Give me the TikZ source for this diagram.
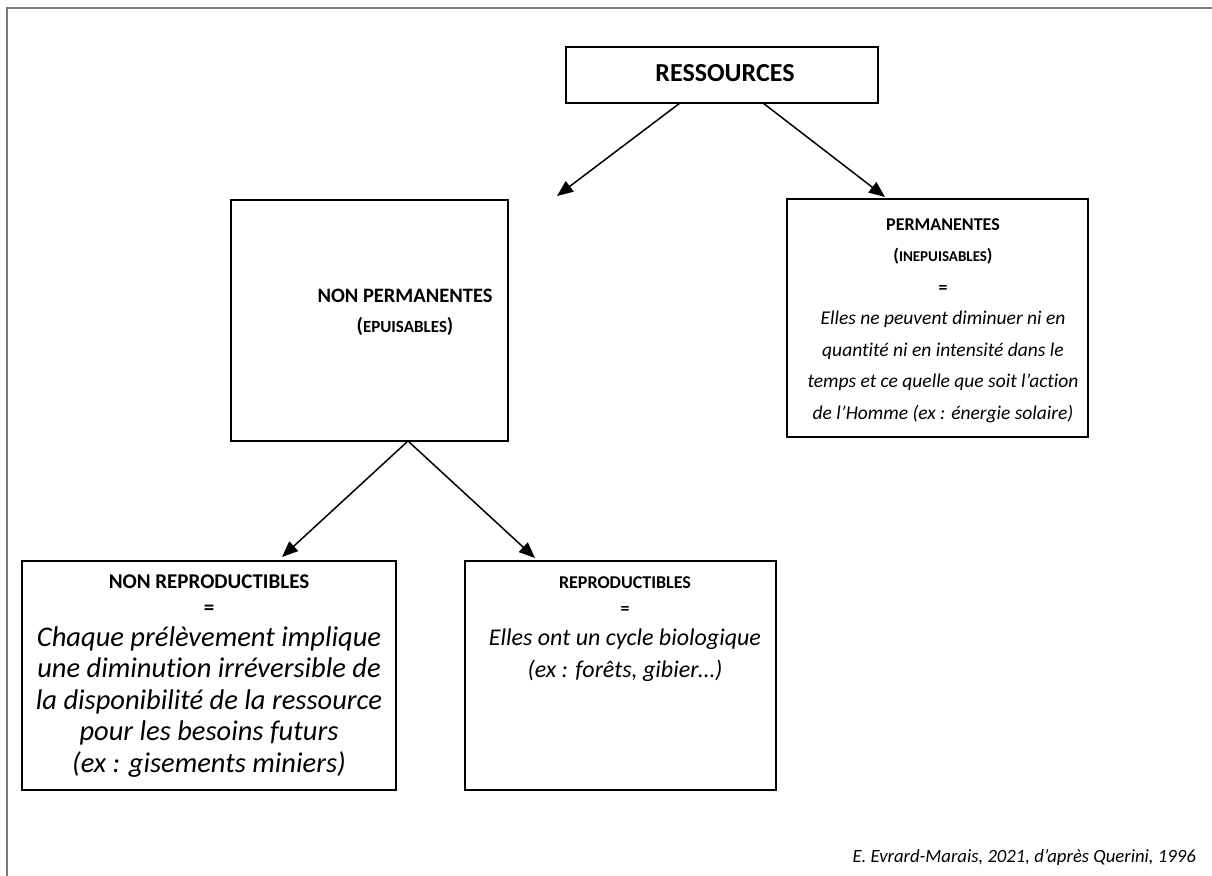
\documentclass[tikz,border=0pt]{standalone}
\usepackage{fontspec}
\setmainfont{Carlito}[Ligatures={NoCommon,NoContextual}]
\usetikzlibrary{arrows.meta}
\newcommand{\fsc}[2]{{\fontsize{#1}{31.5bp}\selectfont #2}}
\begin{document}
\begin{tikzpicture}[x=1bp,y=-1bp,
  frame/.style={draw, line width=2bp},
  arr/.style={-{Triangle[length=16bp,width=13bp]}, line width=1.5bp},
  txt/.style={align=center, inner sep=0pt, anchor=north},
  anchorpt/.style={inner sep=0pt}
]
\useasboundingbox (0,0) rectangle (1212,876);
\draw[color=gray!95!black, line width=2.5bp] (7,900) -- (7,8) -- (1230,8);

% RESSOURCES
\draw[frame] (566,47) rectangle (878,103);
\node[anchorpt] (res) at (722,75) {};
\node[font=\fontsize{26bp}{30bp}\selectfont\bfseries] (restxt) at (725,73) {RESSOURCES};

% NON PERMANENTES
\draw[frame] (231,200) rectangle (508,441);
\node[anchorpt] (np) at (369,320) {};
\node[txt, font=\fontsize{20.5bp}{30bp}\selectfont\bfseries] (nptxt) at (405,288.5) {NON PERMANENTES\\(\fsc{17bp}{EPUISABLES})};

% PERMANENTES
\draw[frame] (787,199) rectangle (1088,437);
\node[anchorpt] (p) at (937,318) {};
\node[txt, font=\fontsize{18bp}{31.5bp}\selectfont] (ptxt) at (943,218) {\bfseries PERMANENTES\\\bfseries(\fsc{15bp}{INEPUISABLES})\\\bfseries =\\
\itshape\fontsize{19.5bp}{31.5bp}\selectfont Elles ne peuvent diminuer ni en\\
\itshape\fontsize{19.5bp}{31.5bp}\selectfont quantité ni en intensité dans le\\
\itshape\fontsize{19.5bp}{31.5bp}\selectfont temps et ce quelle que soit l’action\\
\itshape\fontsize{19.5bp}{31.5bp}\selectfont de l’Homme (ex : énergie solaire)};

% NON REPRODUCTIBLES
\draw[frame] (22,561) rectangle (396,790);
\node[anchorpt] (nr) at (209,675) {};
\node[txt, font=\fontsize{21bp}{31.5bp}\selectfont] (nrtxt) at (209,575) {\bfseries NON REPRODUCTIBLES\\[-5.5bp]\bfseries =\\
\itshape\fontsize{28.5bp}{31.5bp}\selectfont Chaque prélèvement implique\\
\itshape\fontsize{28.5bp}{31.5bp}\selectfont une diminution irréversible de\\
\itshape\fontsize{28.5bp}{31.5bp}\selectfont la disponibilité de la ressource\\
\itshape\fontsize{28.5bp}{31.5bp}\selectfont pour les besoins futurs\\
\itshape\fontsize{28.5bp}{31.5bp}\selectfont (ex : gisements miniers)};

% REPRODUCTIBLES
\draw[frame] (465,561) rectangle (776,790);
\node[anchorpt] (r) at (620,675) {};
\node[txt, font=\fontsize{18bp}{31.5bp}\selectfont] (rtxt) at (625,576) {\bfseries REPRODUCTIBLES\\[-5.5bp]\bfseries =\\
\itshape\fontsize{24bp}{31.5bp}\selectfont Elles ont un cycle biologique\\
\itshape\fontsize{24bp}{31.5bp}\selectfont (ex : forêts, gibier…)};

% arrows
\coordinate (a1s) at (680,103);
\coordinate (a1e) at (557,196);
\coordinate (a2s) at (763,103);
\coordinate (a2e) at (885,197);
\coordinate (a3s) at (408,441);
\coordinate (a3e) at (282,557);
\coordinate (a4e) at (535,558);
\draw[arr] (a1s) -- (a1e);
\draw[arr] (a2s) -- (a2e);
\draw[arr] (a3s) -- (a3e);
\draw[arr] (a3s) -- (a4e);

\node[anchor=base east, inner sep=0pt, font=\fontsize{18.7bp}{24bp}\selectfont\itshape] (cite) at (1196,862) {E. Evrard-Marais, 2021, d’après Querini, 1996};
\end{tikzpicture}
\end{document}
